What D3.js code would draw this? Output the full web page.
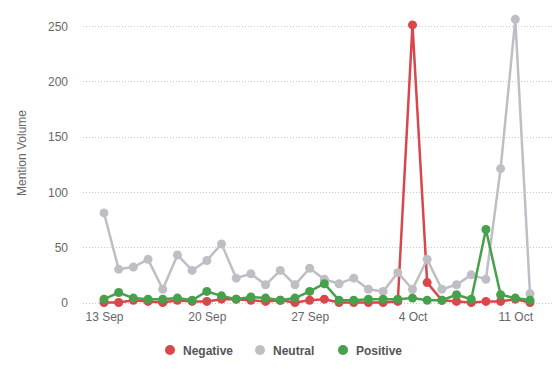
<!DOCTYPE html>
<html><head><meta charset="utf-8">
<script src="https://cdn.jsdelivr.net/npm/d3@7"></script>
<style>
html,body{margin:0;padding:0;background:#fff;}
svg{display:block;font-family:"Liberation Sans",Arial,Helvetica,sans-serif;}
</style></head>
<body><svg id="chart" width="559" height="369"></svg>
<script>
const dates = ["2015-09-13","2015-09-14","2015-09-15","2015-09-16","2015-09-17","2015-09-18","2015-09-19","2015-09-20","2015-09-21","2015-09-22","2015-09-23","2015-09-24","2015-09-25","2015-09-26","2015-09-27","2015-09-28","2015-09-29","2015-09-30","2015-10-01","2015-10-02","2015-10-03","2015-10-04","2015-10-05","2015-10-06","2015-10-07","2015-10-08","2015-10-09","2015-10-10","2015-10-11","2015-10-12"];
const negative = [0,0,2,1,0,2,1,1,3,3,2,1,2,0,2,3,0,0,0,0,1,251,18,2,1,0,1,1,3,0];
const neutral  = [81,30,32,39,12,43,29,38,53,22,26,16,29,16,31,21,17,22,12,10,27,12,39,12,16,25,21,121,256,8];
const positive = [3,9,4,3,3,4,2,10,6,3,5,4,2,4,10,17,2,2,3,3,3,4,2,2,7,3,66,7,4,2];
const yTicks = [0,50,100,150,200,250];
const xTickDates = ["2015-09-13","2015-09-20","2015-09-27","2015-10-04","2015-10-11"];
const xTickLabels = ["13 Sep","20 Sep","27 Sep","4 Oct","11 Oct"];
const seriesNames = ["Negative","Neutral","Positive"];
const seriesColors = ["#d9474a","#bfbec5","#46a04c"];

const parse = d3.utcParse("%Y-%m-%d");
const xDates = dates.map(parse);
const svg = d3.select("#chart");

const x = d3.scaleUtc().domain([xDates[0], xDates[xDates.length-1]]).range([104, 530]);
const y = d3.scaleLinear().domain([0, 250]).range([302.5, 26]);
const gridLeft = 83, gridRight = 552;

// grid
svg.append("g").selectAll("line").data(yTicks).join("line")
  .attr("x1", gridLeft).attr("x2", gridRight)
  .attr("y1", d => Math.round(y(d)) + 0.5).attr("y2", d => Math.round(y(d)) + 0.5)
  .attr("stroke", "#c8c8c8").attr("stroke-width", 1).attr("stroke-dasharray", "1,2");

// y axis labels
const yAxis = d3.axisLeft(y).tickValues(yTicks).tickSize(0).tickPadding(0);
const yg = svg.append("g").attr("transform", "translate(68,0)").call(yAxis);
yg.select(".domain").remove();
yg.selectAll("text").attr("fill", "#666").style("font-size", "12px").attr("dy", "0.35em");

// x axis labels
const xAxis = d3.axisBottom(x).tickValues(xTickDates.map(parse))
  .tickFormat((d, i) => xTickLabels[i]).tickSize(0).tickPadding(0);
const xg = svg.append("g").attr("transform", "translate(0,312)").call(xAxis);
xg.select(".domain").remove();
xg.selectAll("text").attr("fill", "#666").style("font-size", "12px").attr("dy", "0.71em");

// y title
svg.append("text").attr("transform", "translate(26,153) rotate(-90)")
  .attr("text-anchor", "middle").attr("fill", "#666").style("font-size", "12px")
  .text("Mention Volume");

const allSeries = [negative, neutral, positive];
const line = d3.line().x((d, i) => x(xDates[i])).y(d => y(d));
allSeries.forEach((vals, s) => {
  const g = svg.append("g");
  g.append("path").datum(vals).attr("d", line).attr("fill", "none")
    .attr("stroke", seriesColors[s]).attr("stroke-width", 2.5).attr("stroke-linejoin", "round");
  g.selectAll("circle").data(vals).join("circle")
    .attr("cx", (d, i) => x(xDates[i])).attr("cy", d => y(d)).attr("r", 4.5)
    .attr("fill", seriesColors[s]);
});

// legend
const legendX = [170, 260, 343];
const lg = svg.append("g");
seriesNames.forEach((n, i) => {
  lg.append("circle").attr("cx", legendX[i]).attr("cy", 350).attr("r", 5).attr("fill", seriesColors[i]);
  lg.append("text").attr("x", legendX[i] + 13).attr("y", 354.5)
    .attr("fill", "#555").style("font-size", "12px").style("font-weight", "bold").text(n);
});
</script></body></html>
